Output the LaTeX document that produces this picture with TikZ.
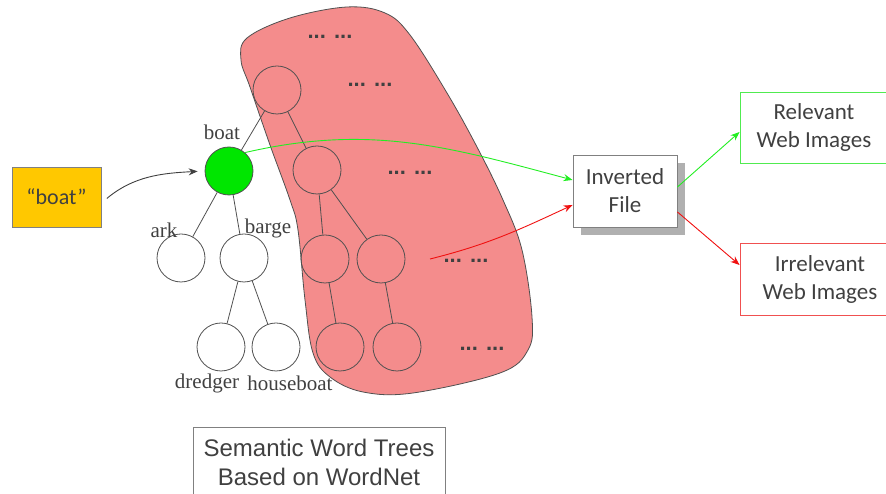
\documentclass[tikz,border=0pt]{standalone}
\usepackage{fontspec}
\setmainfont{Liberation Serif}
\newfontfamily\carlito{Carlito}
\newfontfamily\arialf{Liberation Sans}
\usetikzlibrary{arrows.meta,calc}
\definecolor{txt}{HTML}{404040}
\definecolor{blobred}{RGB}{244,140,140}
\definecolor{boxyellow}{HTML}{FFC800}
\definecolor{relgreen}{RGB}{80,235,80}
\definecolor{irrred}{RGB}{240,80,80}
\definecolor{edgegrey}{HTML}{505050}
\definecolor{boxgrey}{HTML}{808080}
\definecolor{shadowgrey}{HTML}{B0B0B0}
\definecolor{nodegreen}{HTML}{00E600}
\definecolor{arrgreen}{HTML}{22EE22}
\definecolor{arrred}{HTML}{F01010}
\begin{document}
\begin{tikzpicture}[x=1pt,y=1pt,
  tnode/.style={circle,draw=edgegrey,line width=0.8pt,minimum size=48pt,inner sep=0pt},
  lbl/.style={font=\fontsize{21}{24}\selectfont,text=txt,inner sep=0pt},
  dotstext/.style={font=\arialf\bfseries\fontsize{22}{26}\selectfont,text=txt,inner sep=0pt},
  sbox/.style={draw=boxgrey,line width=0.9pt,fill=white,font=\carlito\fontsize{23}{28}\selectfont,text=txt,align=center,inner sep=0pt},
  tline/.style={draw=edgegrey,line width=0.8pt},
  arr/.style={-{Stealth[length=9pt,width=7pt]},line width=0.9pt}]
\useasboundingbox (0,0) rectangle (886,494);

% blob
\draw[fill=blobred,draw=edgegrey,line width=0.8pt] plot[smooth cycle,tension=0.6] coordinates {
 (347,487) (385,481) (410,459) (447,401) (477,347) (503,294) (522,244) (532,177)
 (528,144) (500,121) (413,101) (363,102) (330,117) (313,141) (305,194) (298,264)
 (290,294) (270,349) (250,407) (241,434) (247,456) (290,476)};

% dots
\node[dotstext] (d1) at (330,457) {... ...};
\node[dotstext] (d2) at (370,409) {... ...};
\node[dotstext] (d3) at (410,321) {... ...};
\node[dotstext] (d4) at (466,233) {... ...};
\node[dotstext] (d5) at (482,145) {... ...};

% tree nodes
\node[tnode,fill=nodegreen] (boat) at (229,323) {};
\node[tnode,fill=white] (ark) at (181,236) {};
\node[tnode,fill=white] (barge) at (244,236) {};
\node[tnode,fill=white] (dredger) at (221,147) {};
\node[tnode,fill=white] (houseboat) at (276,147) {};
\node[tnode] (t1) at (277,404) {};
\node[tnode] (t2) at (317,324) {};
\node[tnode] (t3) at (325,235) {};
\node[tnode] (t4) at (381,235) {};
\node[tnode] (t5) at (340,147) {};
\node[tnode] (t6) at (397,147) {};

\draw[tline] (boat) -- (ark);
\draw[tline] (boat) -- (barge);
\draw[tline] (barge) -- (dredger);
\draw[tline] (barge) -- (houseboat);
\draw[tline] (boat) -- (t1);
\draw[tline] (t1) -- (t2);
\draw[tline] (t2) -- (t3);
\draw[tline] (t2) -- (t4);
\draw[tline] (t3) -- (t5);
\draw[tline] (t4) -- (t6);

% labels
\node[lbl] (lboat) at (222,362) {boat};
\node[lbl] (lark) at (164,264) {ark};
\node[lbl] (lbarge) at (268,266) {barge};
\node[lbl] (ldredger) at (207,111) {dredger};
\node[lbl] (lhouse) at (290,111) {houseboat};

% query box
\node[draw=boxgrey,line width=0.9pt,fill=boxyellow,minimum width=89pt,minimum height=60pt,
      font=\carlito\fontsize{22}{26}\selectfont,text=txt] (yb) at (56.5,297) {“boat”};

% inverted file
\node[fill=shadowgrey,minimum width=104pt,minimum height=72pt,inner sep=0pt] (invsh) at (633,295) {};
\node[sbox,minimum width=104pt,minimum height=72pt] (inv) at (625,303) {Inverted\\File};

\node[sbox,draw=relgreen,minimum width=148pt,minimum height=71pt] (rel) at (814,366.5) {Relevant\\Web Images};
\node[sbox,draw=irrred,minimum width=160pt,minimum height=72pt] (irr) at (820,215) {Irrelevant\\Web Images};

% semantic box
\node[draw=boxgrey,line width=0.9pt,minimum width=252pt,minimum height=70pt,inner sep=0pt,align=center,
      font=\arialf\fontsize{24}{29}\selectfont,text=txt] (sem) at (319,32) {Semantic Word Trees\\Based on WordNet};

% arrows
\draw[arr,draw=txt,shorten <=7pt,shorten >=7pt] ([yshift=-6pt]yb.east) to[out=40,in=183] (boat.west);
\draw[arr,draw=arrgreen] (boat.49) to[out=13,in=165] ([yshift=11pt]inv.west);
\coordinate (rs) at (430,235);
\draw[arr,draw=arrred] (rs) to[out=14,in=205] ([yshift=-14pt]inv.west);
\draw[arr,draw=arrgreen] ([yshift=4pt]inv.east) -- ([yshift=-4.5pt]rel.west);
\draw[arr,draw=arrred] ([yshift=-21pt]inv.east) -- ([yshift=14pt]irr.west);
\end{tikzpicture}
\end{document}
